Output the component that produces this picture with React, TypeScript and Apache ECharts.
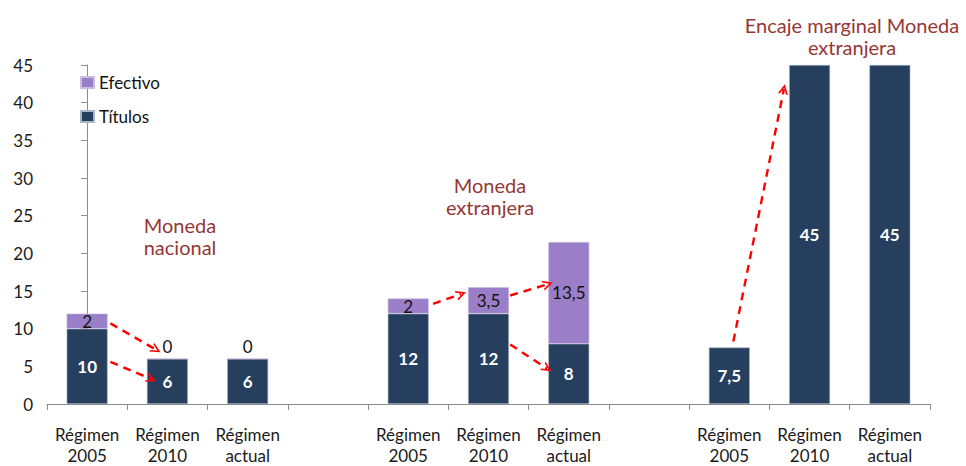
import React, { useEffect, useRef } from "react";
import * as echarts from "echarts";

const categories = [
  "Régimen\n2005", "Régimen\n2010", "Régimen\nactual", "",
  "Régimen\n2005", "Régimen\n2010", "Régimen\nactual", "",
  "Régimen\n2005", "Régimen\n2010", "Régimen\nactual",
];
const titulos: (number | null)[] = [10, 6, 6, null, 12, 12, 8, null, 7.5, 45, 45];
const efectivo: (number | null)[] = [2, 0, 0, null, 2, 3.5, 13.5, null, null, null, null];
const yTicks = { min: 0, max: 45, interval: 5 };

// arrow endpoints in data units (x: category position, y: value)
const arrows: [number, number, number, number][] = [
  [0.29, 10.7, 0.86, 7.2],
  [0.29, 5.6, 0.8, 3.3],
  [4.31, 13.3, 4.66, 14.6],
  [5.27, 14.4, 5.74, 15.9],
  [5.27, 7.9, 5.73, 4.7],
  [8.05, 8.3, 8.68, 41.8],
];

const annotations = [
  { text: "Moneda\nnacional", x: 180, y: 236 },
  { text: "Moneda\nextranjera", x: 490, y: 196 },
  { text: "Encaje marginal Moneda\nextranjera", x: 852, y: 36 },
];

const NAVY = "#263F5F";
const PURPLE = "#9A7EC7";
const FONT = "Lato";
const fmt = (v: number) => String(v).replace(".", ",");

export default function App() {
  const ref = useRef<HTMLDivElement>(null);
  useEffect(() => {
    if (!ref.current) return;
    const chart = echarts.init(ref.current, null, { renderer: "svg" });
    chart.setOption({
      animation: false,
      backgroundColor: "#fff",
      textStyle: { fontFamily: FONT },
      grid: { left: 47, right: 36, top: 65, bottom: 58, containLabel: false },
      legend: {
        data: ["Efectivo", "Títulos"],
        orient: "vertical",
        left: 80,
        top: 74,
        padding: 0,
        itemWidth: 13,
        itemHeight: 11,
        itemGap: 17,
        icon: "rect",
        textStyle: { fontSize: 17, color: "#111", fontFamily: FONT },
      },
      xAxis: [
        {
          type: "category",
          data: categories,
          axisLine: { lineStyle: { color: "#8c8c8c" } },
          axisTick: { show: true, length: 6, lineStyle: { color: "#8c8c8c" } },
          axisLabel: { fontSize: 17, color: "#1a1a1a", lineHeight: 21, margin: 20, fontFamily: FONT, interval: 0 },
        },
        { type: "value", min: -0.5, max: 10.5, show: false },
      ],
      yAxis: {
        type: "value",
        min: yTicks.min,
        max: yTicks.max,
        interval: yTicks.interval,
        axisLine: { show: true, lineStyle: { color: "#8c8c8c" } },
        axisTick: { show: true, length: 6, lineStyle: { color: "#8c8c8c" } },
        splitLine: { show: false },
        axisLabel: { fontSize: 17, color: "#1a1a1a", margin: 14, fontFamily: FONT },
      },
      series: [
        {
          name: "Títulos",
          type: "bar",
          stack: "s",
          barWidth: "51%",
          data: titulos,
          itemStyle: { color: NAVY, borderColor: "#a9b6c6", borderWidth: 0.6 },
          label: {
            show: true,
            position: "inside",
            color: "#fff",
            fontWeight: "bold",
            fontSize: 17,
            fontFamily: FONT,
            formatter: (p: any) => fmt(p.value),
          },
        },
        {
          name: "Efectivo",
          type: "bar",
          stack: "s",
          barWidth: "51%",
          data: efectivo.map((v) =>
            v === 0 ? { value: v, label: { position: "top", distance: 4 } } : v
          ),
          itemStyle: { color: PURPLE, borderColor: "#c9bde3", borderWidth: 0.6 },
          label: {
            show: true,
            position: "inside",
            color: "#111",
            fontSize: 17,
            fontFamily: FONT,
            formatter: (p: any) => fmt(p.value),
          },
        },
        {
          type: "lines",
          coordinateSystem: "cartesian2d",
          xAxisIndex: 1,
          yAxisIndex: 0,
          symbol: ["none", "path://M0,10 L5,0 L10,10 L8.2,10 L5,3.6 L1.8,10 Z"],
          symbolSize: [14, 10],
          lineStyle: { color: "#ff0000", width: 2.4, type: [8, 6], opacity: 1 },
          itemStyle: { color: "#ff0000" },
          data: arrows.map((a) => ({ coords: [[a[0], a[1]], [a[2], a[3]]] })),
          silent: true,
          z: 5,
        },
      ],
      graphic: annotations.map((a) => ({
        type: "text",
        x: a.x,
        y: a.y,
        style: {
          text: a.text,
          fill: "#953735",
          font: `20px ${FONT}`,
          lineHeight: 22,
          align: "center",
          verticalAlign: "middle",
        },
      })),
    });
    return () => chart.dispose();
  }, []);
  return <div ref={ref} style={{ width: 966, height: 466, position: "absolute", left: 0, top: 0 }} />;
}
